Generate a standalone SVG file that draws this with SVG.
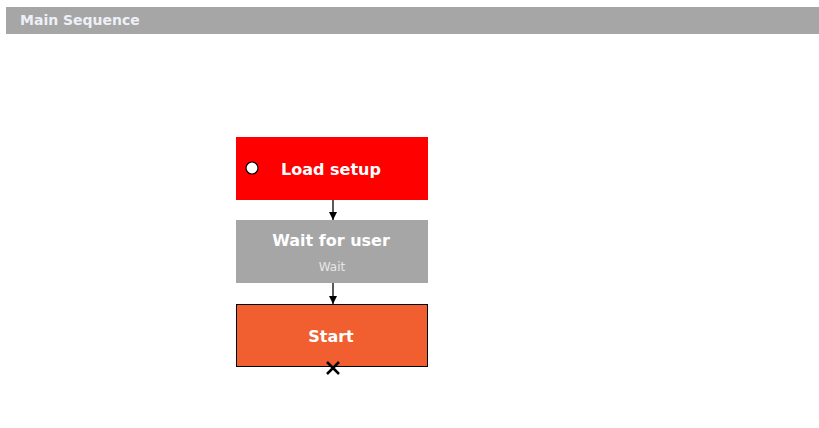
<svg xmlns="http://www.w3.org/2000/svg" width="819" height="428" viewBox="0 0 819 428">
<defs>
<style>
.t{font-family:"DejaVu Sans",Verdana,sans-serif;font-weight:bold;fill:#fff;text-anchor:middle}
.c{stroke:#000;stroke-width:1.3;fill:none}
</style>
<marker id="ah" markerWidth="9" markerHeight="9" refX="8" refY="4.5" orient="auto" markerUnits="userSpaceOnUse">
<path d="M0,0.5 L8,4.5 L0,8.5 z" fill="#000"/>
</marker>
</defs>
<rect width="819" height="428" fill="#fff"/>
<g id="header">
<rect x="6" y="7" width="813" height="27" fill="#a6a6a6"/>
<text x="20" y="25" class="t" style="text-anchor:start;font-size:14px;fill:#eef0f8">Main Sequence</text>
</g>
<g id="load-setup">
<rect x="236" y="137" width="192" height="63" fill="#ff0000"/>
<circle cx="252" cy="168" r="6" fill="#fff" stroke="#000" stroke-width="1.2"/>
<text x="331" y="175" class="t" style="font-size:16px">Load setup</text>
</g>
<g id="wait-for-user">
<rect x="236" y="220" width="192" height="63" fill="#a6a6a6"/>
<text x="331" y="246" class="t" style="font-size:16px">Wait for user</text>
<text x="332" y="271" class="t" style="font-size:12px;font-weight:normal;fill:#e6e6e6">Wait</text>
</g>
<g id="start">
<rect x="236.5" y="304.5" width="191" height="62" fill="#f15f30" stroke="#000" stroke-width="1"/>
<text x="331" y="342" class="t" style="font-size:16px">Start</text>
<path d="M327,362 L339,374 M339,362 L327,374" stroke="#000" stroke-width="2.5"/>
</g>
<g id="connectors">
<line x1="333" y1="200" x2="333" y2="220" class="c" marker-end="url(#ah)"/>
<line x1="333" y1="283" x2="333" y2="304" class="c" marker-end="url(#ah)"/>
</g>
</svg>
